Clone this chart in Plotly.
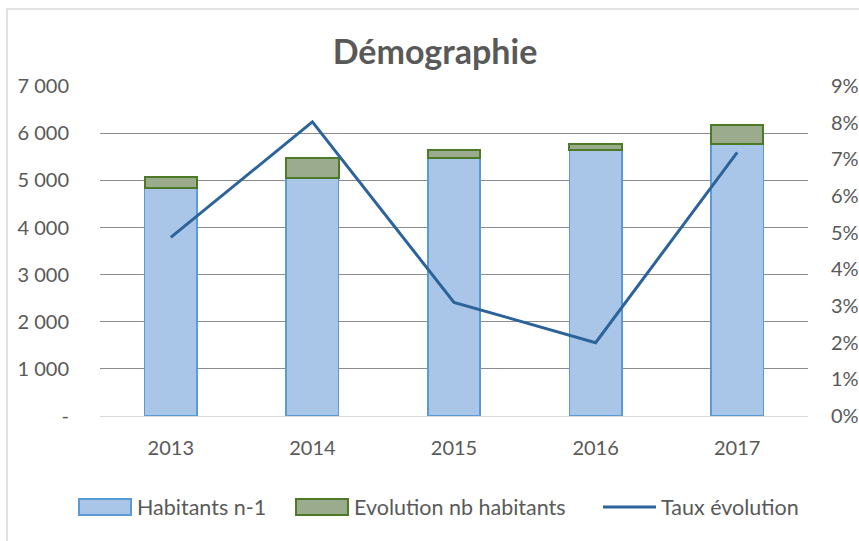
import plotly.graph_objects as go

years = ["2013", "2014", "2015", "2016", "2017"]
habitants_n1 = [4830, 5060, 5475, 5640, 5770]
evolution_nb = [250, 425, 175, 130, 410]
taux_evolution = [0.0487, 0.0802, 0.031, 0.020, 0.0719]

left_tickvals = [0, 1000, 2000, 3000, 4000, 5000, 6000, 7000]
left_ticktext = ["-", "1 000", "2 000", "3 000", "4 000", "5 000", "6 000", "7 000"]

series_names = ["Habitants n-1", "Evolution nb habitants", "Taux évolution"]

FONT = "Lato, Calibri, Carlito, sans-serif"
TXT = "#595959"
BLUE_FILL, BLUE_LINE = "#A9C5E8", "#5B9BD5"
GREEN_FILL, GREEN_LINE = "#9AAB8E", "#4E7A28"
LINE_COL = "#2C6399"

# plot area geometry (pixels) for paper-coordinate helpers
L, R, T, B = 100, 808, 86, 416
W, H = R - L, B - T
px = lambda x: (x - L) / W
py = lambda y: (B - y) / H

fig = go.Figure()
fig.add_trace(go.Bar(
    x=years, y=habitants_n1, name=series_names[0],
    marker=dict(color=BLUE_FILL, line=dict(color=BLUE_LINE, width=1.5)),
    width=0.37, showlegend=False,
))
fig.add_trace(go.Bar(
    x=years, y=evolution_nb, name=series_names[1],
    marker=dict(color=GREEN_FILL, line=dict(color=GREEN_LINE, width=2)),
    width=0.37, showlegend=False,
))
fig.add_trace(go.Scatter(
    x=years, y=taux_evolution, name=series_names[2], yaxis="y2",
    mode="lines", line=dict(color=LINE_COL, width=3), showlegend=False,
))

shapes = [dict(type="rect", xref="paper", yref="paper",
               x0=px(7), x1=px(900), y0=py(600), y1=py(9),
               line=dict(color="#D9D9D9", width=1.5), layer="below")]
annotations = []
# custom legend
leg_y = 507
items = [(79, "box", BLUE_FILL, BLUE_LINE), (296, "box", GREEN_FILL, GREEN_LINE), (603, "line", LINE_COL, LINE_COL)]
for (x0, kind, fill, line), name in zip(items, series_names):
    if kind == "box":
        shapes.append(dict(type="rect", xref="paper", yref="paper",
                           x0=px(x0), x1=px(x0 + 52), y0=py(leg_y + 8), y1=py(leg_y - 8),
                           fillcolor=fill, line=dict(color=line, width=2)))
    else:
        shapes.append(dict(type="line", xref="paper", yref="paper",
                           x0=px(x0), x1=px(x0 + 53), y0=py(leg_y), y1=py(leg_y),
                           line=dict(color=line, width=3)))
    annotations.append(dict(xref="paper", yref="paper", x=px(x0 + 56), y=py(leg_y),
                            xanchor="left", yanchor="middle", showarrow=False,
                            text=name, font=dict(family=FONT, size=21.5, color=TXT)))

fig.update_layout(
    width=859, height=541,
    margin=dict(l=L, r=859 - R, t=T, b=541 - B, autoexpand=False),
    paper_bgcolor="white", plot_bgcolor="white",
    barmode="stack",
    showlegend=False,
    font=dict(family=FONT, size=20, color=TXT),
    title=dict(text="<b>Démographie</b>", x=435 / 859,
               xanchor="center", y=1 - 52 / 541, yanchor="middle",
               font=dict(family=FONT, size=34, color=TXT)),
    xaxis=dict(showgrid=False, showline=False, ticks="", tickfont=dict(size=20, color=TXT),
               ticklabelstandoff=18, automargin=False),
    yaxis=dict(range=[0, 7005], tickvals=left_tickvals, ticktext=left_ticktext,
               showgrid=True, gridcolor="#8C8C8C", gridwidth=1.3,
               zeroline=True, zerolinecolor="#D9D9D9", zerolinewidth=1.3,
               showline=False, ticks="", ticklabelstandoff=30, automargin=False,
               tickfont=dict(size=20, color=TXT)),
    yaxis2=dict(range=[0, 0.09], dtick=0.01, tickformat=".0%", overlaying="y", side="right",
                showgrid=False, zeroline=False, showline=False, ticks="",
                ticklabelstandoff=22, automargin=False, tickfont=dict(size=20, color=TXT)),
    shapes=shapes,
    annotations=annotations,
)

fig.write_html("out.html", post_script="document.body.style.margin='0';",
               config={"displayModeBar": False})
